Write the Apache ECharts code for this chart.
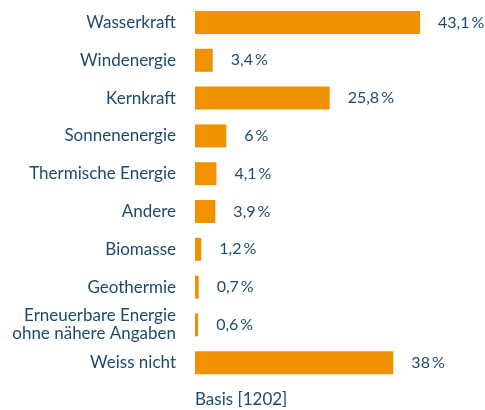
<!DOCTYPE html>
<html>
<head>
<meta charset="utf-8">
<script src="https://cdn.jsdelivr.net/npm/echarts@6/dist/echarts.min.js"></script>
<style>
  html, body { margin: 0; padding: 0; background: #fff; }
  #chart { width: 485px; height: 410px; }
</style>
</head>
<body>
<div id="chart"></div>
<script>
// Kategorien von oben nach unten
const categories = [
  'Wasserkraft',
  'Windenergie',
  'Kernkraft',
  'Sonnenenergie',
  'Thermische Energie',
  'Andere',
  'Biomasse',
  'Geothermie',
  'Erneuerbare Energie\nohne nähere Angaben',
  'Weiss nicht'
]
const values = [43.1, 3.4, 25.8, 6, 4.1, 3.9, 1.2, 0.7, 0.6, 38]
const basisText = 'Basis [1202]'

const textColor = '#1d4a6b'
const barColor = '#f09100'
const font = 'Lato'

const chart = echarts.init(document.getElementById('chart'))
chart.setOption({
  animation: false,
  title: {
    text: basisText,
    left: 195,
    top: 391,
    padding: 0,
    textStyle: { color: textColor, fontFamily: font, fontSize: 17, fontWeight: 'normal' }
  },
  grid: {
    left: 195,
    width: 261,
    top: 3.6,
    bottom: 28.4
  },
  xAxis: {
    type: 'value',
    min: 0,
    max: 50,
    show: false
  },
  yAxis: {
    type: 'category',
    inverse: true,
    data: categories,
    axisLine: { show: false },
    axisTick: { show: false },
    axisLabel: {
      margin: 19,
      color: textColor,
      fontFamily: font,
      fontSize: 17,
      lineHeight: 18,
      align: 'right'
    }
  },
  series: [{
    type: 'bar',
    data: values,
    barWidth: 23,
    itemStyle: { color: barColor },
    label: {
      show: true,
      position: 'right',
      distance: 18,
      color: textColor,
      fontFamily: font,
      fontSize: 16,
      formatter: p => String(p.value).replace('.', ',') + '\u2009%'
    }
  }]
})
</script>
</body>
</html>
